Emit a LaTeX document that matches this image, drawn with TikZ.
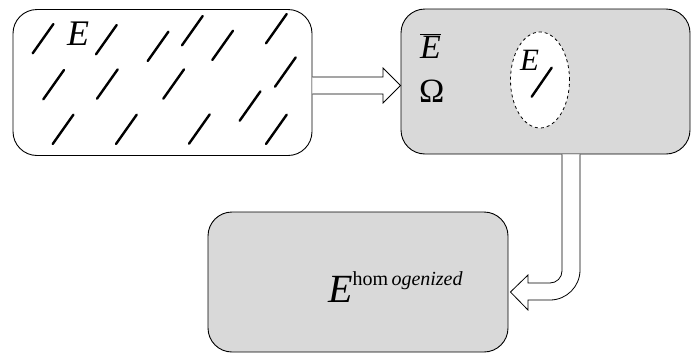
\documentclass[tikz,border=0pt]{standalone}
\usepackage{fontspec}
\setmainfont{Liberation Serif}
\usetikzlibrary{calc,shapes.geometric}

\tikzset{
  panel/.style={draw, line width=0.9pt, rounded corners=24pt, inner sep=0pt},
  grayfill/.style={fill=black!15},
  fibre/.style={line width=2.4pt, line cap=round},
  blockarrow/.style={draw, fill=white, line width=0.8pt, line join=miter},
}
\newcommand{\bigfont}[1]{\fontsize{#1}{#1}\selectfont}

\begin{document}
\begin{tikzpicture}[x=1pt, y=-1pt]
\useasboundingbox (0,0) rectangle (691,354);
% the three panels
\node [panel, minimum width=299pt, minimum height=146pt] (inclusion) at (162.5,82.5) {};
\node [panel, grayfill, minimum width=289pt, minimum height=145pt] (cell) at (545.5,81.5) {};
\node [panel, grayfill, minimum width=300pt, minimum height=140pt] (homog) at (358,282) {};
% fibres in the composite
\foreach \x/\y in {32.7/53.3, 96/54.3, 147.7/61, 182/45.3, 212.3/60, 266/43.3,
                   43.3/99.3, 97/98.7, 163.3/98.7, 275/86.7, 239.7/120.7,
                   52.7/144, 116/144, 189/143.7, 266/144}
  \draw [fibre] (\x,\y) -- ++(20.7,-29.3);
\node [anchor=base west, inner sep=0pt] (lblE) at (67,45) {\bigfont{36}\textit{E}};
% unit cell
\node [anchor=base west, inner sep=0pt] (lblEbar) at (420,58) {\bigfont{34}$\overline{\mbox{\textit{E}}}$};
\node [anchor=base west, inner sep=0pt] (lblOmega) at (419,102) {\bigfont{34}Ω};
\node [draw, dashed, fill=white, ellipse, line width=0.8pt, minimum width=59pt, minimum height=96pt, inner sep=0pt] (rve) at (540,80) {};
\draw [fibre] (531.7,96.7) -- (551.7,67.7);
\node [anchor=base west, inner sep=0pt] (lblErve) at (520,70) {\bigfont{31}\textit{E}};
% homogenized
\node [anchor=base west, inner sep=0pt] (lblEhom) at (328,302) {\bigfont{40}\textit{E}\raisebox{17pt}{\bigfont{20}hom\,\textit{ogenized}}};
% block arrows
\draw [blockarrow] ($(inclusion.east)+(0,-5.5)$) -- (383,77) -- (383,68) -- ($(cell.west)+(0,4)$)
  -- (383,103) -- (383,94) -- ($(inclusion.east)+(0,11.5)$);
\draw [blockarrow] ($(cell.south)+(34.5,0)$) [rounded corners=30pt] -- (580,300) [sharp corners] -- (528,300)
  -- (528,310) -- ($(homog.east)+(2,10)$) -- (528,275) -- (528,283) [rounded corners=12pt] -- (562,283) [sharp corners] -- ($(cell.south)+(16.5,0)$);
\end{tikzpicture}
\end{document}
